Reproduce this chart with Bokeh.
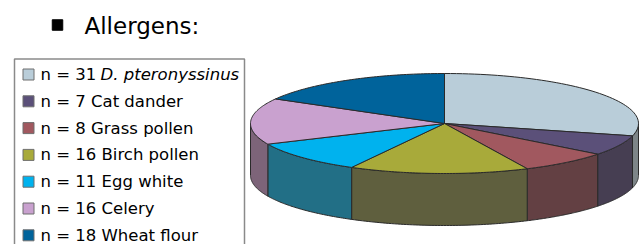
import numpy as np
from bokeh.plotting import figure
from bokeh.models import Range1d
from bokeh.core.properties import value
from bokeh.embed import file_html
from bokeh.resources import INLINE

# ---- data ----
labels = ["D. pteronyssinus", "Cat dander", "Grass pollen", "Birch pollen",
          "Egg white", "Celery", "Wheat flour"]
counts = [31, 7, 8, 16, 11, 16, 18]
italic = [True, False, False, False, False, False, False]
top_colors = ["#B9CDD9", "#5B5079", "#A1585F", "#A8AA3A", "#00B2EE", "#C9A1CF", "#00639B"]
side_colors = ["#7D8588", "#463E52", "#634043", "#5F5F3E", "#226F86", "#7D6479", "#00425F"]
title = "Allergens:"

# ---- layout ----
W, H = 644, 244
p = figure(width=W, height=H, output_backend="svg", toolbar_location=None,
           x_range=Range1d(0, W), y_range=Range1d(H, 0),
           min_border=0, min_border_left=0, min_border_right=0,
           min_border_top=0, min_border_bottom=0)
p.axis.visible = False
p.grid.visible = False
p.outline_line_color = None
p.background_fill_color = "white"
p.border_fill_color = "white"

FONT = value("DejaVu Sans")

# title
p.scatter(x=[57], y=[24.5], marker="square", size=10.5, color="black")
p.text(x=[84], y=[25], text=[title], text_font=FONT, text_font_size="23px",
       text_baseline="middle", text_color="#000000")

# ---- 3D pie ----
cx, cy, a, b, depth = 444, 123, 194, 50, 52
total = float(sum(counts))
ends = 90 - np.cumsum(counts) / total * 360.0
starts = np.concatenate([[90.0], ends[:-1]])

def arc(t0, t1, n=60):
    t = np.radians(np.linspace(t0, t1, n))
    return cx + a * np.cos(t), cy - b * np.sin(t)

side_xs, side_ys, side_c = [], [], []
for s, e, c in zip(starts, ends, side_colors):
    lo, hi = max(e, -180.0), min(s, 0.0)
    if lo < hi:
        ax, ay = arc(hi, lo)
        side_xs.append(list(ax) + list(ax[::-1]))
        side_ys.append(list(ay) + list((ay + depth)[::-1]))
        side_c.append(c)
p.patches(xs=side_xs, ys=side_ys, fill_color=side_c, line_color="#2a2a2a", line_width=1)

top_xs, top_ys = [], []
for s, e in zip(starts, ends):
    ax, ay = arc(s, e)
    top_xs.append([cx] + list(ax))
    top_ys.append([cy] + list(ay))
p.patches(xs=top_xs, ys=top_ys, fill_color=top_colors, line_color="#2a2a2a", line_width=1)

# ---- legend ----
p.quad(left=[14], right=[244], top=[58.5], bottom=[270], fill_color="white",
       line_color="#8a8a8a", line_width=1.5)
row0, dy = 74, 26.8
ys = [row0 + i * dy for i in range(len(labels))]
p.scatter(x=[28] * len(labels), y=ys, marker="square", size=11,
          fill_color=top_colors, line_color="#6f6f6f", line_width=1)
plain_txt, plain_y, ital_txt, ital_y = [], [], [], []
for lab, cnt, it, yy in zip(labels, counts, italic, ys):
    if it:
        plain_txt.append(f"n = {cnt}")
        ital_txt.append(lab)
        ital_y.append(yy)
    else:
        plain_txt.append(f"n = {cnt} {lab}")
    plain_y.append(yy)
p.text(x=[40] * len(plain_txt), y=plain_y, text=plain_txt, text_font=FONT,
       text_font_size="16.5px", text_baseline="middle", text_color="#000000")
p.text(x=[100] * len(ital_txt), y=ital_y, text=ital_txt, text_font=FONT,
       text_font_size="16.5px", text_font_style="italic", text_baseline="middle",
       text_color="#000000")

open("out.html", "w").write(file_html(p, INLINE))
